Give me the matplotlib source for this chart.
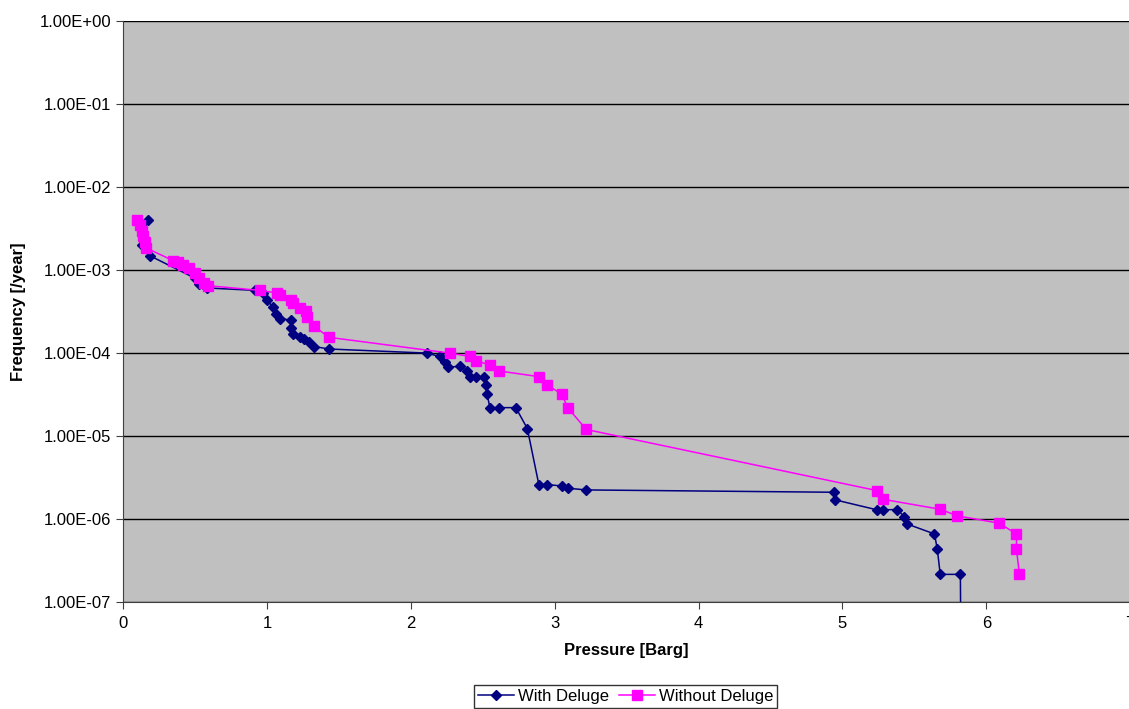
import matplotlib.pyplot as plt
from matplotlib.ticker import FixedLocator, FuncFormatter, NullLocator
import numpy as np

plt.rcParams['font.family'] = ['Liberation Sans', 'DejaVu Sans']

# With Deluge (pressure [barg], frequency [/year])
with_p = [0.17, 0.13, 0.19, 0.50, 0.53, 0.58, 0.92, 0.97, 1.00, 1.04, 1.06, 1.09,
          1.17, 1.17, 1.18, 1.23, 1.26, 1.29, 1.33, 1.43,
          2.11, 2.20, 2.24, 2.26, 2.34, 2.39, 2.41, 2.45, 2.51, 2.52, 2.53, 2.55,
          2.61, 2.73, 2.81, 2.89, 2.95, 3.05, 3.09, 3.22,
          4.94, 4.95, 5.24, 5.28, 5.38, 5.43, 5.45, 5.64, 5.66, 5.68, 5.82, 5.83]
with_f = [4.0e-3, 2.0e-3, 1.48e-3, 8.0e-4, 6.8e-4, 6.1e-4, 5.7e-4, 5.3e-4, 4.4e-4, 3.6e-4, 3.0e-4, 2.6e-4,
          2.5e-4, 2.0e-4, 1.7e-4, 1.55e-4, 1.48e-4, 1.35e-4, 1.2e-4, 1.12e-4,
          1.0e-4, 9.1e-5, 7.9e-5, 6.8e-5, 6.9e-5, 6.1e-5, 5.1e-5, 5.1e-5, 5.1e-5, 4.1e-5, 3.2e-5, 2.2e-5,
          2.2e-5, 2.2e-5, 1.23e-5, 2.6e-6, 2.6e-6, 2.5e-6, 2.35e-6, 2.24e-6,
          2.1e-6, 1.7e-6, 1.29e-6, 1.29e-6, 1.3e-6, 1.07e-6, 8.7e-7, 6.6e-7, 4.3e-7, 2.15e-7, 2.15e-7, 1e-9]

# Without Deluge
without_p = [0.10, 0.12, 0.13, 0.14, 0.15, 0.16,
             0.35, 0.38, 0.42, 0.46, 0.50, 0.53, 0.56, 0.59,
             0.95, 1.07, 1.09, 1.17, 1.18, 1.23, 1.27, 1.28, 1.33, 1.43,
             2.27, 2.41, 2.45, 2.55, 2.61, 2.89, 2.95, 3.05, 3.09, 3.22,
             5.24, 5.28, 5.68, 5.80, 6.09, 6.21, 6.21, 6.23]
without_f = [4.0e-3, 3.5e-3, 3.0e-3, 2.6e-3, 2.2e-3, 1.85e-3,
             1.3e-3, 1.25e-3, 1.15e-3, 1.05e-3, 9.2e-4, 8.0e-4, 7.0e-4, 6.5e-4,
             5.7e-4, 5.3e-4, 5.0e-4, 4.4e-4, 4.0e-4, 3.5e-4, 3.2e-4, 2.7e-4, 2.1e-4, 1.55e-4,
             1.0e-4, 9.1e-5, 8.1e-5, 7.2e-5, 6.1e-5, 5.2e-5, 4.1e-5, 3.2e-5, 2.2e-5, 1.2e-5,
             2.2e-6, 1.73e-6, 1.31e-6, 1.09e-6, 8.9e-7, 6.6e-7, 4.3e-7, 2.2e-7]

y_ticks = [1e0, 1e-1, 1e-2, 1e-3, 1e-4, 1e-5, 1e-6, 1e-7]

fig = plt.figure(figsize=(11.29, 7.09), dpi=100)
ax = fig.add_axes([0.109, 0.151, 0.892, 0.819])
ax.set_facecolor('#C0C0C0')

ax.plot(with_p, with_f, color='#000080', marker='D', markersize=5.5, lw=1.1,
        label='With Deluge', zorder=3)
ax.plot(without_p, without_f, color='#FF00FF', marker='s', markersize=7, lw=1.1,
        label='Without Deluge', zorder=3)

ax.set_yscale('log')
ax.set_ylim(1e-7, 1e0)
ax.set_xlim(0, 7)
ax.yaxis.set_major_locator(FixedLocator(y_ticks))
ax.yaxis.set_minor_locator(NullLocator())
ax.yaxis.set_major_formatter(FuncFormatter(lambda v, p: '%.2E' % v))
ax.set_xticks(range(0, 8))

ax.grid(axis='y', color='black', lw=1.0, zorder=1)
ax.set_axisbelow(True)
for s in ['top', 'right']:
    ax.spines[s].set_visible(False)
for s in ['left', 'bottom']:
    ax.spines[s].set_color('#404040')

ax.tick_params(axis='both', labelsize=12, direction='out', length=5, color='#404040')
ax.tick_params(axis='x', pad=5)

ax.set_xlabel('Pressure [Barg]', fontsize=12, fontweight='bold', labelpad=9)
ax.set_ylabel('Frequency [/year]', fontsize=12, fontweight='bold', labelpad=10)

leg = fig.legend(loc='upper center', bbox_to_anchor=(0.554, 0.034), ncol=2,
                 fontsize=12, frameon=True, fancybox=False, edgecolor='black',
                 handlelength=2.2, handletextpad=0.2, columnspacing=0.6,
                 borderpad=0.25, borderaxespad=0)
leg.get_frame().set_linewidth(1.0)

fig.savefig('out.png', dpi=100)
